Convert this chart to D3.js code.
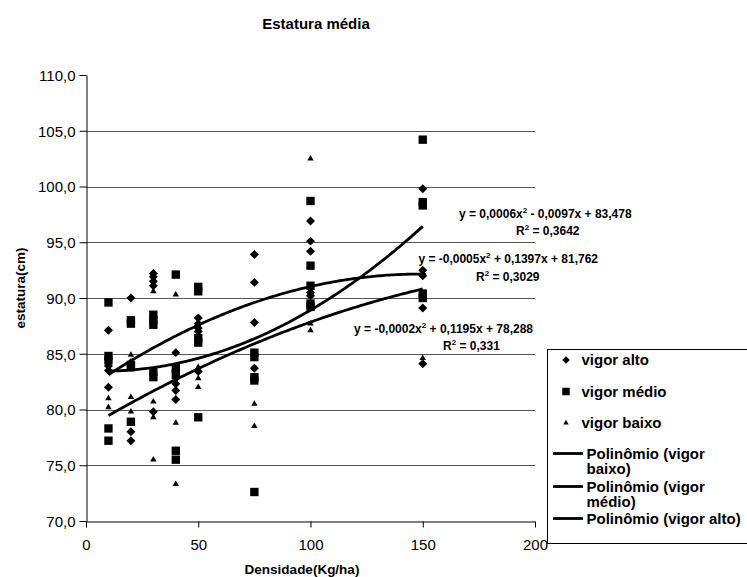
<!DOCTYPE html>
<html><head><meta charset="utf-8">
<script src="https://cdn.jsdelivr.net/npm/d3@7"></script>
<style>
body{margin:0;background:#fff}
svg{display:block}
text{font-family:"Liberation Sans",Arial,Helvetica,sans-serif;fill:#000}
</style></head>
<body><svg id="c" width="747" height="577"></svg>
<script>
// ---------- data ----------
const densidades = [10, 20, 30, 40, 50, 75, 100, 150];
const vigorAlto = [
  [87.1, 83.9, 83.5, 82.0],
  [90.0, 84.2, 78.0, 77.2],
  [92.2, 91.9, 91.5, 91.1, 79.8],
  [85.1, 82.8, 82.3, 81.7, 80.9],
  [88.2, 87.7, 87.3, 87.0, 83.4],
  [93.9, 91.4, 87.8, 83.7],
  [96.9, 95.1, 94.2, 90.5, 90.2],
  [99.8, 92.5, 92.0, 89.1, 84.1]
];
const vigorMedio = [
  [89.6, 84.8, 84.4, 78.3, 77.2],
  [88.0, 87.7, 84.0, 83.8, 78.9],
  [88.5, 88.0, 87.6, 83.4, 82.9],
  [92.1, 83.7, 83.2, 76.3, 75.5],
  [91.0, 90.6, 86.4, 86.0, 79.3],
  [85.1, 84.7, 82.9, 82.6, 72.6],
  [98.7, 92.9, 91.1, 89.5, 89.2],
  [104.2, 98.6, 98.3, 90.4, 90.0]
];
const vigorBaixo = [
  [83.7, 81.0, 80.2],
  [84.9, 81.1, 79.8],
  [90.6, 80.7, 79.3, 75.5],
  [90.3, 83.4, 78.8, 73.3],
  [83.8, 82.8, 82.0],
  [80.5, 78.5],
  [102.5, 87.7, 87.1],
  [92.3, 84.6]
];
// polynomial trend coefficients [a, b, c] for y = a x^2 + b x + c
const trendBaixo = [-0.00024, 0.1195, 78.288];
const trendMedio = [0.00064, -0.0097, 83.478];
const trendAlto  = [-0.00047, 0.1397, 81.762];
const trendRange = [10, 150];

const xTicks = [0, 50, 100, 150, 200];
const yTicks = [70, 75, 80, 85, 90, 95, 100, 105, 110];

const titleText = "Estatura média";
const xTitle = "Densidade(Kg/ha)";
const yTitle = "estatura(cm)";
const eqLabels = [
  {pre: "y = 0,0006x", post: " - 0,0097x + 83,478", r2: "0,3642"},
  {pre: "y = -0,0005x", post: " + 0,1397x + 81,762", r2: "0,3029"},
  {pre: "y = -0,0002x", post: " + 0,1195x + 78,288", r2: "0,331"}
];
const legendSeries = ["vigor alto", "vigor médio", "vigor baixo"];
const legendTrends = [["Polinômio (vigor", "baixo)"], ["Polinômio (vigor", "médio)"], ["Polinômio (vigor alto)"]];

// ---------- drawing ----------
const svg = d3.select("#c");
const x = d3.scaleLinear().domain([0, 200]).range([86, 535]);
const y = d3.scaleLinear().domain([70, 110]).range([521, 75]);
const loc = d3.formatLocale({decimal: ",", thousands: ".", grouping: [3], currency: ["", ""]});
const fmt = loc.format(".1f");

// title
svg.append("text").attr("x", 316).attr("y", 29).attr("text-anchor", "middle")
  .style("font-size", "15px").style("font-weight", "bold").text(titleText);

// gridlines
svg.append("g").selectAll("line").data(yTicks.filter(v => v > 70 && v < 110)).join("line")
  .attr("x1", x(0)).attr("x2", x(200))
  .attr("y1", d => Math.round(y(d)) + 0.5).attr("y2", d => Math.round(y(d)) + 0.5)
  .attr("stroke", "#555").attr("stroke-width", 1);

// axes
const yAxis = svg.append("g").attr("transform", "translate(86.5,0)")
  .call(d3.axisLeft(y).tickValues(yTicks).tickSize(7).tickSizeOuter(0).tickPadding(4).tickFormat(fmt));
const xAxis = svg.append("g").attr("transform", "translate(0,521.5)")
  .call(d3.axisBottom(x).tickValues(xTicks).tickSize(6).tickSizeOuter(0).tickPadding(12).tickFormat(d3.format("d")));
[yAxis, xAxis].forEach(g => {
  g.selectAll("text").style("font-size", "15px").style("font-family", "'Liberation Sans',Arial,sans-serif").attr("fill", "#000");
  g.selectAll("path,line").attr("stroke", "#000");
});
yAxis.selectAll("text").attr("dy", "0.36em");

// axis titles
svg.append("text").attr("x", 302).attr("y", 574).attr("text-anchor", "middle")
  .style("font-size", "13.5px").style("font-weight", "bold").text(xTitle);
svg.append("text").attr("transform", "translate(25,288) rotate(-90)").attr("text-anchor", "middle")
  .style("font-size", "13.5px").style("font-weight", "bold").text(yTitle);

// markers
const diamond = d3.symbol().type(d3.symbolSquare).size(40);
const square = d3.symbol().type(d3.symbolSquare).size(70);
const tri = d3.symbol().type(d3.symbolTriangle).size(18);
function pts(vals) {
  const out = [];
  vals.forEach((arr, i) => arr.forEach(v => out.push([densidades[i], v])));
  return out;
}
const mk = svg.append("g");
mk.selectAll("path.t").data(pts(vigorBaixo)).join("path").attr("class", "t")
  .attr("d", tri).attr("transform", d => `translate(${x(d[0])},${y(d[1])})`).attr("fill", "#000");
mk.selectAll("path.s").data(pts(vigorMedio)).join("path").attr("class", "s")
  .attr("d", square).attr("transform", d => `translate(${x(d[0])},${y(d[1])})`).attr("fill", "#000");
mk.selectAll("path.d").data(pts(vigorAlto)).join("path").attr("class", "d")
  .attr("d", diamond).attr("transform", d => `translate(${x(d[0])},${y(d[1])}) rotate(45)`).attr("fill", "#000");

// trend curves
const line = d3.line().x(d => x(d[0])).y(d => y(d[1]));
[trendBaixo, trendMedio, trendAlto].forEach(c => {
  const xs = d3.range(trendRange[0], trendRange[1] + 0.5, 1);
  const data = xs.map(v => [v, c[0] * v * v + c[1] * v + c[2]]);
  svg.append("path").datum(data).attr("d", line).attr("fill", "none")
    .attr("stroke", "#000").attr("stroke-width", 2.8);
});

// equation labels
const eqPos = [
  {x: 459, y: 217.5, anchor: "start", rx: 516, ry: 234.5},
  {x: 598, y: 262.5, anchor: "end", rx: 476, ry: 280.5},
  {x: 533, y: 332.5, anchor: "end", rx: 443, ry: 349.5}
];
eqLabels.forEach((e, i) => {
  const p = eqPos[i];
  const t = svg.append("text").attr("x", p.x).attr("y", p.y).attr("text-anchor", p.anchor)
    .style("font-size", "12px").style("font-weight", "bold");
  t.append("tspan").text(e.pre);
  t.append("tspan").attr("dy", -5).style("font-size", "8px").text("2");
  t.append("tspan").attr("dy", 5).text(e.post);
  const r = svg.append("text").attr("x", p.rx).attr("y", p.ry)
    .style("font-size", "12px").style("font-weight", "bold");
  r.append("tspan").text("R");
  r.append("tspan").attr("dy", -5).style("font-size", "8px").text("2");
  r.append("tspan").attr("dy", 5).text(" = " + e.r2);
});

// legend
const lg = svg.append("g");
lg.append("rect").attr("x", 547.5).attr("y", 349.5).attr("width", 220).attr("height", 194)
  .attr("fill", "#fff").attr("stroke", "#000").attr("stroke-width", 1);
const lgY = [360, 391.5, 423];
const lgSym = [
  d3.symbol().type(d3.symbolSquare).size(30),
  d3.symbol().type(d3.symbolSquare).size(56),
  d3.symbol().type(d3.symbolTriangle).size(13)
];
legendSeries.forEach((s, i) => {
  lg.append("path").attr("d", lgSym[i]).attr("fill", "#000")
    .attr("transform", `translate(566,${lgY[i]})` + (i === 0 ? " rotate(45)" : ""));
  lg.append("text").attr("x", 581.5).attr("y", lgY[i] + 5.4)
    .style("font-size", "15px").style("font-weight", "bold").text(s);
});
const lgTY = [453.5, 486.5, 518.5];
legendTrends.forEach((lines, i) => {
  lg.append("line").attr("x1", 553).attr("x2", 583).attr("y1", lgTY[i]).attr("y2", lgTY[i])
    .attr("stroke", "#000").attr("stroke-width", 2.8);
  lines.forEach((l, j) => {
    lg.append("text").attr("x", 586.5).attr("y", lgTY[i] + 5.4 + j * 15.5)
      .style("font-size", "15px").style("font-weight", "bold").text(l);
  });
});
</script></body></html>
